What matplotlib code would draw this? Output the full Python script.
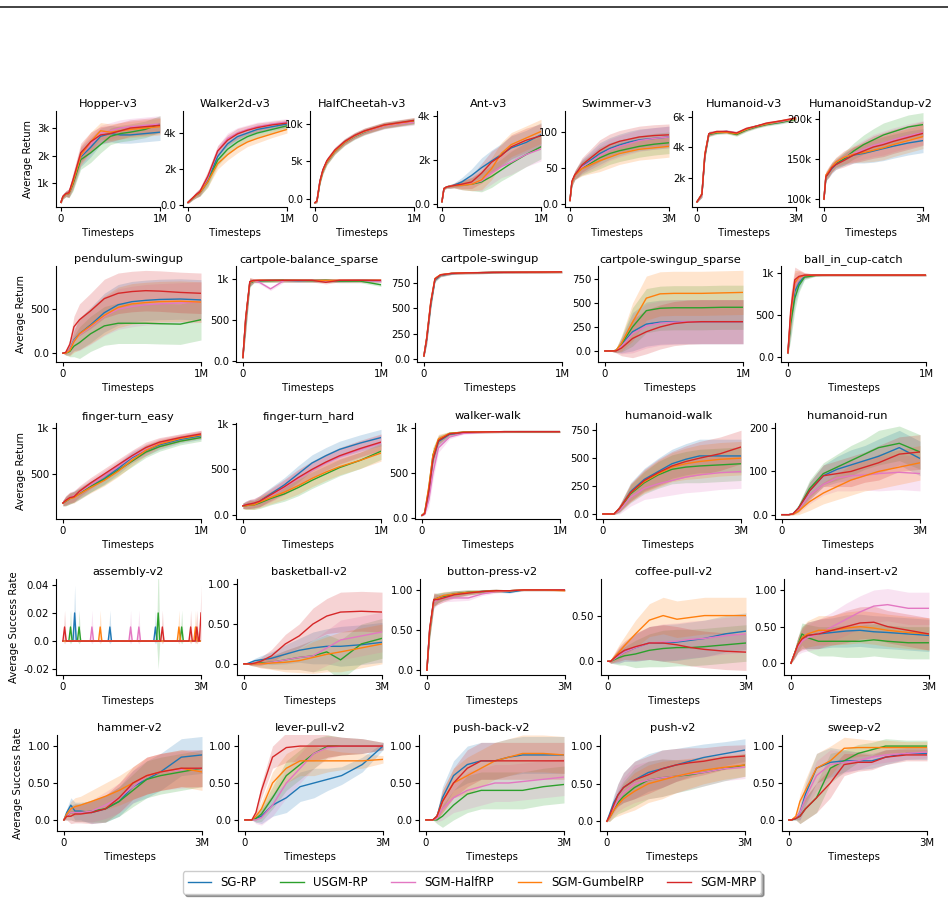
import numpy as np
import matplotlib
matplotlib.use("Agg")
import matplotlib.pyplot as plt
from matplotlib.lines import Line2D

#      Données
#-------------------------------------------

methods = ["SG-RP", "USGM-RP", "SGM-HalfRP", "SGM-GumbelRP", "SGM-MRP"]
colors = ["#1f77b4", "#2ca02c", "#e377c2", "#ff7f0e", "#d62728"]

# fraction of the total number of timesteps
grid = [0, .02, .05, .08, .12, .2, .3, .4, .5, .6, .7, .85, 1.0]

# --- MuJoCo ---
hopper = [
    [300, 500, 600, 620, 1000, 1950, 2300, 2700, 2800, 2750, 2750, 2800, 2850],
    [300, 500, 620, 620, 950, 1850, 2100, 2400, 2700, 2800, 2850, 2950, 3150],
    [300, 520, 620, 650, 1050, 2000, 2400, 2800, 2900, 3000, 3050, 3100, 3150],
    [300, 500, 600, 620, 1000, 2000, 2500, 2900, 2850, 2900, 2950, 3000, 3050],
    [300, 520, 620, 650, 1100, 2100, 2500, 2750, 2800, 2900, 3000, 3050, 3100],
]
hopper_sd = [50, 80, 100, 150, 250, 350, 350, 300, 300, 300, 300, 300, 300]

walker2d = [
    [150, 250, 400, 550, 700, 1400, 2700, 3400, 3800, 4000, 4200, 4350, 4500],
    [150, 250, 400, 550, 700, 1300, 2500, 3100, 3500, 3800, 4000, 4200, 4400],
    [150, 260, 420, 580, 750, 1500, 3000, 3700, 4000, 4200, 4350, 4500, 4600],
    [150, 250, 400, 550, 700, 1300, 2300, 2800, 3200, 3500, 3700, 3950, 4200],
    [150, 260, 420, 580, 750, 1600, 3000, 3600, 3950, 4150, 4300, 4450, 4550],
]
walker2d_sd = [50, 80, 100, 150, 200, 300, 300, 300, 300, 250, 250, 200, 200]

halfcheetah = [
    [-500, -300, 2300, 3800, 5000, 6400, 7600, 8400, 9000, 9400, 9800, 10100, 10400],
    [-500, -300, 2200, 3700, 4900, 6300, 7500, 8300, 8900, 9350, 9750, 10050, 10300],
    [-500, -300, 2300, 3800, 5000, 6400, 7550, 8350, 8950, 9300, 9700, 10000, 10200],
    [-500, -300, 2250, 3750, 4950, 6350, 7550, 8400, 9000, 9400, 9800, 10100, 10400],
    [-500, -250, 2400, 3900, 5100, 6500, 7650, 8450, 9050, 9450, 9850, 10150, 10450],
]
halfcheetah_sd = [100, 200, 300, 400, 400, 400, 400, 400, 400, 400, 400, 400, 400]

ant = [
    [100, 700, 780, 800, 850, 1000, 1300, 1650, 1950, 2250, 2550, 2800, 3150],
    [100, 700, 780, 800, 830, 850, 900, 1000, 1250, 1550, 1850, 2250, 2600],
    [100, 700, 780, 800, 830, 850, 920, 1050, 1400, 1700, 1900, 2250, 2500],
    [100, 700, 780, 800, 830, 850, 900, 1100, 1600, 2300, 2700, 3000, 3300],
    [100, 700, 780, 800, 840, 900, 1000, 1400, 1900, 2200, 2600, 2900, 3100],
]
ant_sd = [50, 50, 60, 80, 100, 200, 300, 450, 500, 500, 550, 550, 550]

swimmer = [
    [5, 30, 40, 45, 52, 60, 70, 77, 82, 86, 89, 91, 93],
    [5, 30, 40, 45, 50, 56, 64, 70, 74, 77, 80, 83, 85],
    [5, 30, 40, 45, 51, 58, 67, 75, 80, 84, 88, 91, 93],
    [5, 30, 40, 44, 49, 54, 60, 65, 70, 73, 76, 78, 80],
    [5, 32, 41, 46, 54, 63, 74, 82, 87, 90, 93, 95, 96],
]
swimmer_sd = [2, 5, 6, 8, 10, 12, 15, 15, 15, 15, 15, 15, 15]

humanoid = [
    [400, 600, 900, 3500, 4900, 5000, 5050, 4900, 5200, 5400, 5550, 5700, 5900],
    [400, 600, 900, 3400, 4850, 4950, 5000, 4850, 5150, 5350, 5500, 5650, 5850],
    [400, 600, 900, 3500, 4900, 5000, 5050, 4950, 5200, 5400, 5550, 5700, 5900],
    [400, 600, 950, 3600, 4900, 5000, 5000, 4900, 5200, 5400, 5550, 5750, 5900],
    [400, 600, 900, 3500, 4900, 5050, 5050, 4950, 5250, 5400, 5600, 5750, 5950],
]
humanoid_sd = [50, 100, 200, 200, 150, 100, 100, 120, 120, 100, 100, 100, 100]

standup = [
    [100e3, 128e3, 133e3, 138e3, 143e3, 150e3, 155e3, 157e3, 160e3, 163e3, 166e3, 170e3, 173e3],
    [100e3, 128e3, 134e3, 140e3, 145e3, 150e3, 160e3, 168e3, 174e3, 180e3, 184e3, 190e3, 193e3],
    [100e3, 130e3, 135e3, 140e3, 146e3, 152e3, 157e3, 162e3, 167e3, 170e3, 174e3, 179e3, 183e3],
    [100e3, 130e3, 135e3, 140e3, 146e3, 152e3, 156e3, 158e3, 161e3, 164e3, 168e3, 173e3, 178e3],
    [100e3, 128e3, 133e3, 139e3, 143e3, 148e3, 155e3, 160e3, 165e3, 168e3, 172e3, 177e3, 182e3],
]
standup_sd = [2e3, 5e3, 6e3, 6e3, 6e3, 8e3, 10e3, 12e3, 14e3, 15e3, 15e3, 15e3, 15e3]

# --- DeepMind Control ---
pendulum = [
    [0, 0, 40, 150, 220, 320, 460, 550, 585, 600, 610, 615, 605],
    [0, 0, 20, 80, 120, 220, 310, 340, 340, 340, 335, 330, 380],
    [0, 0, 40, 140, 210, 300, 420, 500, 530, 550, 560, 570, 580],
    [0, 0, 30, 130, 220, 310, 430, 520, 560, 575, 585, 590, 580],
    [0, 10, 100, 300, 380, 480, 620, 680, 700, 710, 705, 690, 680],
]
pendulum_sd = [0, 20, 60, 120, 180, 200, 220, 230, 230, 230, 230, 230, 230]

balance_sparse = [
    [40, 500, 960, 975, 980, 985, 985, 980, 985, 985, 980, 985, 980],
    [40, 480, 950, 975, 980, 980, 985, 985, 980, 985, 975, 975, 930],
    [40, 500, 960, 980, 960, 880, 985, 985, 985, 980, 985, 985, 975],
    [40, 520, 965, 980, 985, 985, 985, 985, 985, 985, 985, 985, 985],
    [40, 520, 970, 985, 985, 985, 985, 985, 985, 960, 985, 985, 985],
]
balance_sparse_sd = [20, 150, 50, 20, 20, 20, 20, 20, 20, 20, 20, 20, 20]

swingup = [
    [30, 190, 540, 780, 825, 843, 850, 852, 855, 856, 857, 858, 860],
    [30, 200, 550, 785, 828, 845, 850, 852, 855, 856, 857, 858, 860],
    [30, 200, 560, 790, 830, 845, 850, 852, 855, 856, 857, 858, 860],
    [30, 210, 570, 795, 832, 846, 851, 853, 855, 856, 857, 858, 860],
    [30, 200, 560, 790, 830, 845, 850, 852, 855, 856, 857, 858, 860],
]
swingup_sd = [10, 50, 50, 20, 15, 10, 10, 10, 10, 10, 10, 10, 10]

swingup_sparse = [
    [0, 0, 0, 5, 60, 200, 280, 300, 305, 305, 305, 305, 305],
    [0, 0, 0, 5, 70, 250, 420, 445, 450, 450, 450, 455, 455],
    [0, 0, 0, 5, 50, 180, 260, 290, 300, 305, 305, 305, 305],
    [0, 0, 0, 5, 80, 300, 550, 595, 600, 600, 600, 605, 610],
    [0, 0, 0, 0, 30, 130, 200, 250, 285, 300, 305, 305, 305],
]
swingup_sparse_sd = [0, 0, 5, 20, 80, 200, 230, 230, 230, 230, 230, 230, 230]

ball_in_cup = [
    [50, 450, 780, 880, 960, 975, 975, 975, 975, 975, 975, 975, 975],
    [50, 400, 700, 850, 950, 970, 975, 975, 975, 975, 975, 975, 975],
    [50, 500, 850, 940, 970, 975, 975, 975, 975, 975, 975, 975, 975],
    [50, 500, 880, 950, 970, 975, 975, 975, 975, 975, 975, 975, 975],
    [50, 550, 920, 960, 975, 975, 975, 975, 975, 975, 975, 975, 975],
]
ball_in_cup_sd = [20, 200, 150, 80, 30, 10, 10, 10, 10, 10, 10, 10, 10]

finger_easy = [
    [180, 200, 230, 250, 280, 360, 450, 560, 680, 760, 820, 880, 920],
    [180, 200, 230, 250, 290, 360, 440, 540, 640, 740, 800, 860, 900],
    [180, 210, 240, 260, 300, 380, 480, 580, 690, 770, 840, 900, 940],
    [180, 200, 230, 240, 280, 350, 430, 530, 650, 760, 830, 890, 930],
    [180, 210, 240, 250, 310, 400, 500, 600, 700, 790, 850, 900, 940],
]
finger_easy_sd = [30, 50, 60, 60, 60, 60, 60, 60, 60, 60, 50, 40, 40]

finger_hard = [
    [100, 110, 120, 120, 150, 230, 330, 450, 570, 650, 720, 790, 850],
    [100, 100, 110, 110, 130, 180, 230, 300, 380, 450, 520, 600, 700],
    [100, 110, 120, 130, 150, 210, 300, 400, 490, 570, 640, 720, 790],
    [100, 100, 110, 110, 140, 190, 250, 320, 400, 470, 530, 600, 680],
    [100, 110, 120, 130, 150, 220, 310, 410, 500, 580, 650, 730, 800],
]
finger_hard_sd = [30, 40, 50, 50, 60, 70, 80, 90, 90, 90, 90, 90, 90]

walker_walk = [
    [30, 50, 300, 650, 850, 930, 950, 955, 958, 960, 960, 960, 960],
    [30, 60, 330, 700, 870, 940, 955, 957, 958, 960, 960, 960, 960],
    [30, 45, 200, 500, 780, 900, 940, 950, 955, 958, 960, 960, 960],
    [30, 60, 350, 700, 880, 940, 955, 957, 958, 960, 960, 960, 960],
    [30, 50, 300, 650, 860, 935, 952, 955, 958, 960, 960, 960, 960],
]
walker_walk_sd = [5, 10, 80, 80, 50, 20, 10, 10, 10, 10, 10, 10, 10]

humanoid_walk = [
    [0, 0, 0, 0, 50, 200, 310, 380, 450, 490, 520, 520, 520],
    [0, 0, 0, 0, 40, 180, 280, 350, 400, 420, 430, 440, 450],
    [0, 0, 0, 0, 30, 150, 230, 270, 300, 330, 350, 370, 380],
    [0, 0, 0, 0, 50, 190, 290, 360, 420, 450, 470, 490, 500],
    [0, 0, 0, 0, 50, 190, 300, 370, 430, 470, 500, 540, 600],
]
humanoid_walk_sd = [0, 0, 0, 5, 30, 80, 100, 120, 130, 140, 150, 150, 150]

humanoid_run = [
    [0, 0, 0, 2, 15, 55, 90, 105, 115, 125, 135, 155, 130],
    [0, 0, 0, 2, 15, 60, 95, 110, 125, 140, 155, 165, 145],
    [0, 0, 0, 2, 12, 45, 70, 85, 90, 92, 95, 98, 95],
    [0, 0, 0, 1, 8, 30, 50, 65, 80, 90, 100, 110, 120],
    [0, 0, 0, 2, 15, 55, 90, 95, 100, 110, 120, 140, 145],
]
humanoid_run_sd = [0, 0, 0, 2, 8, 20, 25, 30, 35, 35, 40, 40, 40]

# --- Meta-World ---
# assembly-v2: (fraction of timesteps, success rate, spread) for each spike
assembly_spikes = [
    [(0.085, 0.02, 0.02), (0.34, 0.01, 0.012), (0.67, 0.01, 0.012)],
    [(0.055, 0.01, 0.012), (0.117, 0.01, 0.012), (0.69, 0.02, 0.04), (0.86, 0.01, 0.012)],
    [(0.21, 0.01, 0.012), (0.49, 0.01, 0.012), (0.55, 0.01, 0.012)],
    [(0.27, 0.01, 0.012), (0.84, 0.01, 0.012), (0.96, 0.01, 0.012)],
    [(0.012, 0.01, 0.012), (0.72, 0.01, 0.012), (0.925, 0.01, 0.012),
     (0.97, 0.01, 0.012), (1.0, 0.02, 0.02)],
]

basketball = [
    [0, 0, 0.02, 0.04, 0.05, 0.07, 0.12, 0.17, 0.2, 0.22, 0.22, 0.24, 0.27],
    [0, 0, 0, 0, 0.01, 0.02, 0.05, 0.08, 0.1, 0.15, 0.05, 0.25, 0.32],
    [0, 0, 0, 0, 0, 0.02, 0.05, 0.08, 0.1, 0.2, 0.3, 0.35, 0.4],
    [0, 0, 0, 0, 0, 0.01, 0.02, 0.04, 0.08, 0.12, 0.15, 0.2, 0.25],
    [0, 0, 0, 0.01, 0.03, 0.1, 0.25, 0.35, 0.5, 0.6, 0.65, 0.66, 0.65],
]
basketball_sd = [0, 0, 0.02, 0.03, 0.05, 0.08, 0.12, 0.15, 0.2, 0.22, 0.25, 0.25, 0.25]

button_press = [
    [0, 0.5, 0.88, 0.9, 0.92, 0.95, 0.97, 0.98, 0.99, 0.97, 1.0, 1.0, 1.0],
    [0, 0.48, 0.86, 0.9, 0.92, 0.95, 0.97, 0.98, 0.99, 0.99, 1.0, 1.0, 1.0],
    [0, 0.5, 0.85, 0.88, 0.9, 0.9, 0.9, 0.95, 0.98, 0.99, 1.0, 1.0, 1.0],
    [0, 0.5, 0.88, 0.9, 0.93, 0.95, 0.97, 0.98, 0.99, 0.99, 1.0, 1.0, 0.99],
    [0, 0.52, 0.88, 0.88, 0.9, 0.94, 0.96, 0.98, 0.99, 0.99, 1.0, 1.0, 1.0],
]
button_press_sd = [0, 0.1, 0.08, 0.06, 0.05, 0.04, 0.03, 0.02, 0.02, 0.01, 0.01, 0.01, 0.01]

coffee_pull = [
    [0, 0, 0.03, 0.06, 0.1, 0.15, 0.2, 0.2, 0.21, 0.23, 0.25, 0.3, 0.33],
    [0, 0, 0.02, 0.04, 0.06, 0.08, 0.12, 0.14, 0.15, 0.15, 0.16, 0.18, 0.2],
    [0, 0, 0.03, 0.06, 0.1, 0.15, 0.2, 0.21, 0.22, 0.24, 0.25, 0.28, 0.3],
    [0, 0, 0.05, 0.1, 0.17, 0.3, 0.45, 0.5, 0.46, 0.48, 0.5, 0.5, 0.5],
    [0, 0, 0.04, 0.08, 0.12, 0.16, 0.2, 0.2, 0.18, 0.15, 0.13, 0.11, 0.1],
]
coffee_pull_sd = [0, 0.02, 0.05, 0.08, 0.1, 0.15, 0.18, 0.2, 0.2, 0.2, 0.2, 0.2, 0.2]

hand_insert = [
    [0, 0.1, 0.25, 0.35, 0.38, 0.4, 0.42, 0.44, 0.45, 0.43, 0.42, 0.4, 0.38],
    [0, 0.1, 0.25, 0.4, 0.35, 0.3, 0.3, 0.3, 0.3, 0.32, 0.3, 0.28, 0.28],
    [0, 0.1, 0.22, 0.3, 0.35, 0.4, 0.5, 0.6, 0.7, 0.78, 0.8, 0.75, 0.75],
    [0, 0.1, 0.25, 0.35, 0.4, 0.45, 0.45, 0.48, 0.5, 0.48, 0.45, 0.42, 0.4],
    [0, 0.1, 0.25, 0.33, 0.38, 0.4, 0.45, 0.5, 0.55, 0.56, 0.5, 0.45, 0.4],
]
hand_insert_sd = [0, 0.05, 0.1, 0.15, 0.18, 0.2, 0.2, 0.22, 0.22, 0.22, 0.22, 0.22, 0.22]

hammer = [
    [0, 0.1, 0.2, 0.12, 0.12, 0.1, 0.15, 0.25, 0.45, 0.55, 0.65, 0.85, 0.88],
    [0, 0.05, 0.1, 0.1, 0.1, 0.12, 0.15, 0.25, 0.4, 0.55, 0.6, 0.65, 0.7],
    [0, 0.05, 0.1, 0.1, 0.1, 0.12, 0.2, 0.3, 0.45, 0.6, 0.65, 0.68, 0.7],
    [0, 0.08, 0.15, 0.18, 0.2, 0.25, 0.32, 0.4, 0.5, 0.6, 0.65, 0.7, 0.65],
    [0, 0.05, 0.05, 0.08, 0.08, 0.1, 0.15, 0.3, 0.5, 0.6, 0.65, 0.7, 0.7],
]
hammer_sd = [0, 0.05, 0.1, 0.12, 0.12, 0.15, 0.18, 0.2, 0.22, 0.25, 0.25, 0.25, 0.25]

lever_pull = [
    [0, 0, 0, 0.02, 0.05, 0.2, 0.3, 0.45, 0.5, 0.55, 0.6, 0.75, 1.0],
    [0, 0, 0, 0.02, 0.08, 0.3, 0.6, 0.75, 0.9, 1.0, 1.0, 1.0, 1.0],
    [0, 0, 0, 0, 0.03, 0.2, 0.5, 0.7, 0.9, 0.98, 1.0, 1.0, 1.0],
    [0, 0, 0, 0.05, 0.15, 0.5, 0.7, 0.8, 0.8, 0.8, 0.8, 0.8, 0.82],
    [0, 0, 0, 0.1, 0.4, 0.85, 0.98, 1.0, 1.0, 1.0, 1.0, 1.0, 1.0],
]
lever_pull_sd = [0, 0, 0, 0.05, 0.1, 0.15, 0.2, 0.2, 0.2, 0.15, 0.12, 0.1, 0.05]

push_back = [
    [0, 0, 0, 0.05, 0.3, 0.6, 0.75, 0.8, 0.8, 0.85, 0.88, 0.88, 0.88],
    [0, 0, 0, 0, 0.05, 0.2, 0.35, 0.4, 0.4, 0.4, 0.4, 0.45, 0.48],
    [0, 0, 0, 0.02, 0.15, 0.3, 0.4, 0.45, 0.5, 0.5, 0.52, 0.55, 0.58],
    [0, 0, 0, 0.05, 0.25, 0.5, 0.6, 0.7, 0.8, 0.85, 0.9, 0.9, 0.88],
    [0, 0, 0, 0.05, 0.25, 0.5, 0.7, 0.8, 0.8, 0.8, 0.8, 0.8, 0.8],
]
push_back_sd = [0, 0, 0, 0.05, 0.15, 0.2, 0.25, 0.25, 0.25, 0.25, 0.25, 0.25, 0.25]

push = [
    [0, 0.1, 0.25, 0.35, 0.45, 0.55, 0.65, 0.7, 0.75, 0.8, 0.85, 0.9, 0.95],
    [0, 0.05, 0.15, 0.25, 0.33, 0.45, 0.55, 0.58, 0.6, 0.62, 0.65, 0.7, 0.75],
    [0, 0.05, 0.18, 0.28, 0.38, 0.5, 0.55, 0.58, 0.6, 0.63, 0.65, 0.7, 0.72],
    [0, 0.05, 0.15, 0.22, 0.3, 0.4, 0.5, 0.55, 0.6, 0.64, 0.68, 0.72, 0.75],
    [0, 0.08, 0.22, 0.35, 0.45, 0.55, 0.62, 0.7, 0.75, 0.78, 0.8, 0.85, 0.87],
]
push_sd = [0, 0.05, 0.1, 0.15, 0.2, 0.25, 0.25, 0.25, 0.22, 0.2, 0.18, 0.16, 0.15]

sweep = [
    [0, 0, 0.02, 0.1, 0.35, 0.7, 0.78, 0.8, 0.8, 0.8, 0.85, 0.9, 0.9],
    [0, 0, 0.02, 0.05, 0.15, 0.3, 0.7, 0.8, 0.9, 0.95, 1.0, 1.0, 1.0],
    [0, 0, 0.03, 0.1, 0.3, 0.6, 0.75, 0.78, 0.8, 0.85, 0.88, 0.9, 0.92],
    [0, 0, 0.05, 0.25, 0.4, 0.7, 0.8, 0.97, 0.98, 0.98, 0.98, 0.98, 0.98],
    [0, 0, 0.02, 0.05, 0.15, 0.3, 0.5, 0.75, 0.78, 0.78, 0.85, 0.88, 0.88],
]
sweep_sd = [0, 0, 0.02, 0.1, 0.15, 0.2, 0.2, 0.15, 0.12, 0.1, 0.1, 0.08, 0.08]

rate_ticks = [0, 0.5, 1.0]
rate_labels = ["0.0", "0.50", "1.00"]

# (title, series, spread, total steps, ylim, yticks, ytick labels)
rows = [
    [
        ("Hopper-v3", hopper, hopper_sd, 1e6, (130, 3620), [1000, 2000, 3000], ["1k", "2k", "3k"]),
        ("Walker2d-v3", walker2d, walker2d_sd, 1e6, (-100, 5220), [0, 2000, 4000], ["0.0", "2k", "4k"]),
        ("HalfCheetah-v3", halfcheetah, halfcheetah_sd, 1e6, (-1070, 11700), [0, 5000, 10000], ["0.0", "5k", "10k"]),
        ("Ant-v3", ant, ant_sd, 1e6, (-140, 4230), [0, 2000, 4000], ["0.0", "2k", "4k"]),
        ("Swimmer-v3", swimmer, swimmer_sd, 3e6, (-4, 129), [0, 50, 100], ["0.0", "50", "100"]),
        ("Humanoid-v3", humanoid, humanoid_sd, 3e6, (60, 6400), [2000, 4000, 6000], ["2k", "4k", "6k"]),
        ("HumanoidStandup-v2", standup, standup_sd, 3e6, (90000, 210000), [100000, 150000, 200000], ["100k", "150k", "200k"]),
    ],
    [
        ("pendulum-swingup", pendulum, pendulum_sd, 1e6, (-100, 990), [0, 500], ["0.0", "500"]),
        ("cartpole-balance_sparse", balance_sparse, balance_sparse_sd, 1e6, (-15, 1160), [0, 500, 1000], ["0.0", "500", "1k"]),
        ("cartpole-swingup", swingup, swingup_sd, 1e6, (-30, 918), [0, 250, 500, 750], ["0.0", "250", "500", "750"]),
        ("cartpole-swingup_sparse", swingup_sparse, swingup_sparse_sd, 1e6, (-115, 885), [0, 250, 500, 750], ["0.0", "250", "500", "750"]),
        ("ball_in_cup-catch", ball_in_cup, ball_in_cup_sd, 1e6, (-60, 1083), [0, 500, 1000], ["0.0", "500", "1k"]),
    ],
    [
        ("finger-turn_easy", finger_easy, finger_easy_sd, 1e6, (5, 1060), [500, 1000], ["500", "1k"]),
        ("finger-turn_hard", finger_hard, finger_hard_sd, 1e6, (-45, 1010), [0, 500, 1000], ["0.0", "500", "1k"]),
        ("walker-walk", walker_walk, walker_walk_sd, 1e6, (-10, 1056), [0, 500, 1000], ["0.0", "500", "1k"]),
        ("humanoid-walk", humanoid_walk, humanoid_walk_sd, 3e6, (-45, 815), [0, 250, 500, 750], ["0.0", "250", "500", "750"]),
        ("humanoid-run", humanoid_run, humanoid_run_sd, 3e6, (-10, 212), [0, 100, 200], ["0.0", "100", "200"]),
    ],
    [
        ("assembly-v2", None, None, 3e6, (-0.0242, 0.0442), [-0.02, 0, 0.02, 0.04], ["-0.02", "0.0", "0.02", "0.04"]),
        ("basketball-v2", basketball, basketball_sd, 3e6, (-0.14, 1.065), rate_ticks, rate_labels),
        ("button-press-v2", button_press, button_press_sd, 3e6, (-0.06, 1.136), rate_ticks, rate_labels),
        ("coffee-pull-v2", coffee_pull, coffee_pull_sd, 3e6, (-0.15, 0.9), [0, 0.5], ["0.0", "0.50"]),
        ("hand-insert-v2", hand_insert, hand_insert_sd, 3e6, (-0.16, 1.15), rate_ticks, rate_labels),
    ],
    [
        ("hammer-v2", hammer, hammer_sd, 3e6, (-0.15, 1.15), rate_ticks, rate_labels),
        ("lever-pull-v2", lever_pull, lever_pull_sd, 3e6, (-0.15, 1.15), rate_ticks, rate_labels),
        ("push-back-v2", push_back, push_back_sd, 3e6, (-0.15, 1.15), rate_ticks, rate_labels),
        ("push-v2", push, push_sd, 3e6, (-0.13, 1.15), rate_ticks, rate_labels),
        ("sweep-v2", sweep, sweep_sd, 3e6, (-0.15, 1.15), rate_ticks, rate_labels),
    ],
]
ylabels = ["Average Return"] * 3 + ["Average Success Rate"] * 2

#      Mise en page (pixels)
#-------------------------------------------
W, H = 948, 901
row_top = [111, 266, 423, 579, 735]
row_h = 96
row_left = [
    [56, 183, 310, 437, 565, 692, 819],
    [56, 236, 417, 598, 781],
    [56, 236, 415, 596, 775],
    [56, 237, 420, 601, 784],
    [57, 238, 419, 600, 782],
]
FS = 7.3


def spike_series(spikes):
    xs, ys, sds = [0.0], [0.0], [0.0]
    for f, h, s in spikes:
        for dx, k in ((-0.012, 0), (0.0, 1), (0.012, 0)):
            if 0 <= f + dx <= 1:
                xs.append(f + dx)
                ys.append(h * k)
                sds.append(s * k)
    xs.append(1.0); ys.append(ys[-1] if xs[-2] >= 1.0 else 0.0); sds.append(0.0)
    order = np.argsort(xs, kind="stable")
    return np.array(xs)[order], np.array(ys)[order], np.array(sds)[order]


fig = plt.figure(figsize=(W / 100, H / 100), dpi=100)
fig.add_artist(Line2D([0, 1], [1 - 7 / H] * 2, transform=fig.transFigure,
                      color="#222222", lw=1.2))

handles = []
for r, panels in enumerate(rows):
    width = 104 if r == 0 else 145
    for c, (title, series, sd, T, ylim, yt, ytl) in enumerate(panels):
        left = row_left[r][c]
        ax = fig.add_axes([left / W, 1 - (row_top[r] + row_h) / H, width / W, row_h / H])
        if series is None:
            for spikes, col in zip(assembly_spikes, colors):
                fx, y, s = spike_series(spikes)
                ax.fill_between(fx * T, y - s, y + s, color=col, alpha=0.2, lw=0)
                ax.plot(fx * T, y, color=col, lw=1.0)
        else:
            x = np.array(grid) * T
            s = np.array(sd, float)
            for y, col, lab in zip(series, colors, methods):
                y = np.array(y, float)
                ax.fill_between(x, y - s, y + s, color=col, alpha=0.2, lw=0)
                ln, = ax.plot(x, y, color=col, lw=1.0, label=lab)
                if r == 0 and c == 0:
                    handles.append(ln)
        ax.set_xlim(-0.05 * T, T)
        ax.set_ylim(*ylim)
        ax.set_xticks([0, T])
        ax.set_xticklabels(["0", "1M" if T == 1e6 else "3M"], fontsize=FS)
        ax.set_yticks(yt)
        ax.set_yticklabels(ytl, fontsize=FS)
        ax.tick_params(length=3, width=0.8, pad=2)
        ax.spines["top"].set_visible(False)
        ax.spines["right"].set_visible(False)
        ax.set_title(title, fontsize=8.2, pad=3)
        ax.set_xlabel("Timesteps", fontsize=FS, labelpad=3)
        if c == 0:
            ax.set_ylabel(ylabels[r], fontsize=FS, labelpad=3)

fig.legend(handles, methods, loc="center", bbox_to_anchor=(472 / W, 1 - 882.5 / H),
           ncol=5, fontsize=8.5, fancybox=True, shadow=True, framealpha=1)

fig.savefig("out.png", dpi=100)
